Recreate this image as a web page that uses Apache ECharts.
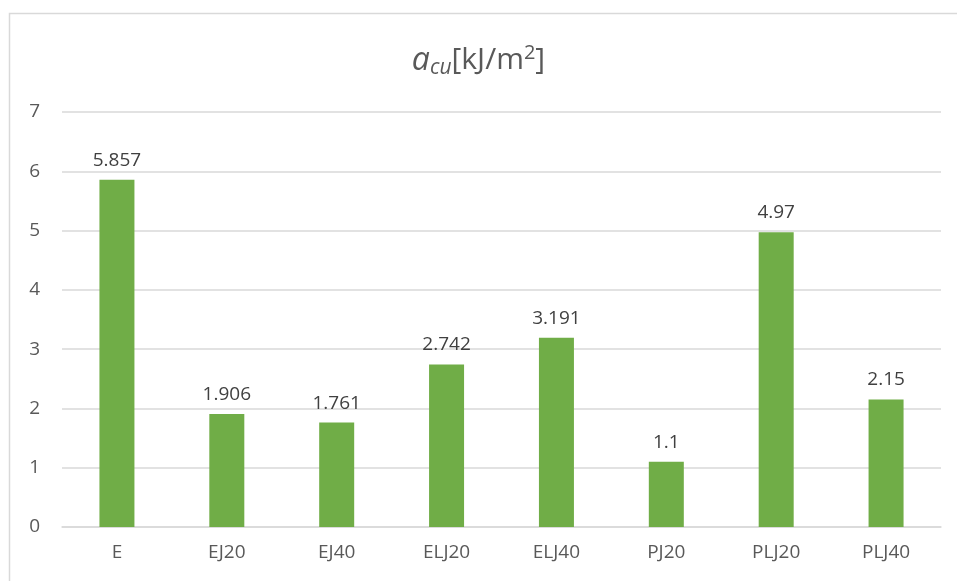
<!DOCTYPE html>
<html>
<head>
<meta charset="utf-8">
<style>
  html, body { margin: 0; padding: 0; background: #fff; }
  #chart { width: 957px; height: 581px; }
</style>
<script src="https://cdn.jsdelivr.net/npm/echarts@6/dist/echarts.min.js"></script>
</head>
<body>
<div id="chart"></div>
<script>
// 数据
const categories = ["E", "EJ20", "EJ40", "ELJ20", "ELJ40", "PJ20", "PLJ20", "PLJ40"];
const values = [5.857, 1.906, 1.761, 2.742, 3.191, 1.1, 4.97, 2.15];

const font = "'Open Sans', 'Noto Sans', sans-serif";
const myChart = echarts.init(document.getElementById("chart"));

let option = {
  animation: false,
  backgroundColor: "#fff",
  textStyle: { fontFamily: font },
  // 外框
  graphic: [{
    type: "rect",
    shape: { x: 9.5, y: 13.5, width: 960, height: 600 },
    style: { fill: "none", stroke: "#D9D9D9", lineWidth: 1.5 },
    silent: true
  }],
  title: {
    text: "{a|a}{s|cu}{t|[kJ/m}{p|2}{t|]}",
    left: "center",
    top: 37,
    textStyle: {
      fontWeight: "normal",
      rich: {
        a: { fontSize: 32, fontStyle: "italic", fontWeight: "normal", color: "#595959", fontFamily: font },
        s: { fontSize: 21, fontStyle: "italic", fontWeight: "normal", color: "#595959", fontFamily: font, padding: [16, 0, 0, 0] },
        t: { fontSize: 30, fontWeight: "normal", color: "#595959", fontFamily: font },
        p: { fontSize: 20, fontWeight: "normal", color: "#595959", fontFamily: font, padding: [0, 0, 14, 0] }
      }
    }
  },
  grid: { left: 62, right: 16, top: 112, bottom: 54, containLabel: false },
  xAxis: {
    type: "category",
    data: categories,
    axisLine: { show: true, lineStyle: { color: "#D9D9D9", width: 1.5 } },
    axisTick: { show: false },
    axisLabel: { color: "#595959", fontSize: 19, margin: 16, fontFamily: font }
  },
  yAxis: {
    type: "value",
    min: 0,
    max: 7,
    interval: 1,
    axisLine: { show: false },
    axisTick: { show: false },
    axisLabel: { color: "#595959", fontSize: 19, margin: 22, fontFamily: font },
    splitLine: { lineStyle: { color: "#D9D9D9", width: 1.5 } }
  },
  series: [{
    type: "bar",
    data: values,
    barWidth: 35,
    itemStyle: { color: "#70AD47" },
    label: {
      show: true,
      position: "top",
      distance: 10,
      color: "#404040",
      fontSize: 19,
      fontFamily: font
    }
  }]
};
myChart.setOption(option);
</script>
</body>
</html>
